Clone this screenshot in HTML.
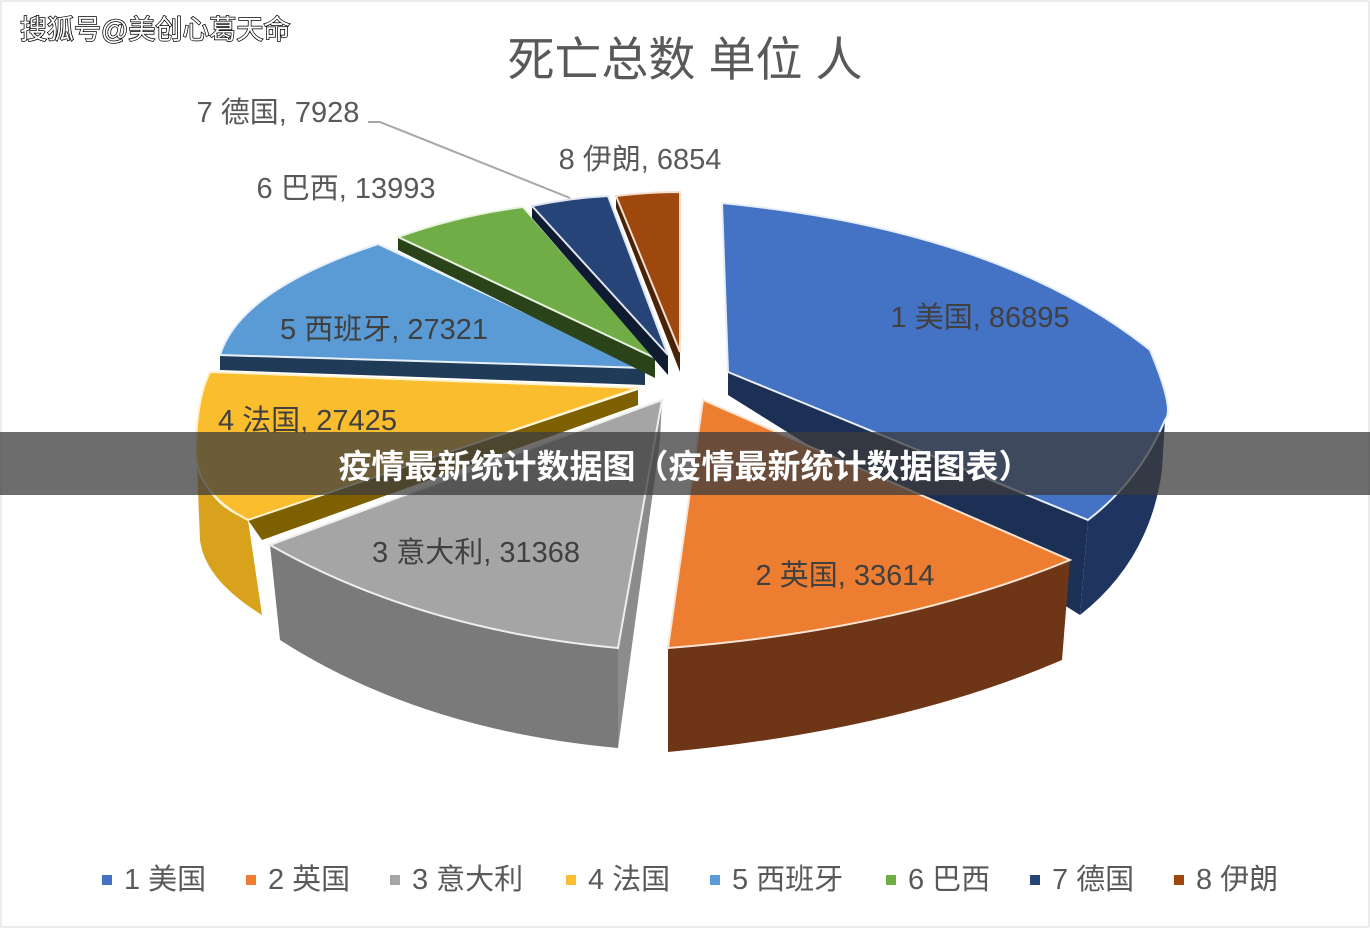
<!DOCTYPE html>
<html><head><meta charset="utf-8"><style>
body{margin:0;background:#fff;}
svg text{font-family:"Liberation Sans","Noto Sans CJK SC",sans-serif;}
</style></head><body>
<svg width="1370" height="928" viewBox="0 0 1370 928" xmlns="http://www.w3.org/2000/svg">
<rect x="0" y="0" width="1370" height="928" fill="#fff"/>
<rect x="1" y="1" width="1368" height="926" fill="none" stroke="#d9d9d9"/>
<text x="685" y="76" font-size="47" fill="#595959" text-anchor="middle">死亡总数 单位 人</text>

<!-- USA -->
<path d="M728,372 L1088,520 L1080,615 Q1150,560 1162,470 L1165,420 L1088,520 Z" fill="#1f3560"/>
<path d="M728,372 L1088,520 L1080,615 L728,395 Z" fill="#1c2f55"/>
<path d="M722,203 Q1000,230 1150,350 Q1175,410 1165,420 Q1140,480 1088,520 L728,372 Z" fill="#4472c4" stroke="#e8eef8" stroke-width="2"/>
<!-- UK -->
<path d="M668,648 Q900,630 1070,560 L1062,660 Q900,730 668,752 Z" fill="#6e3617"/>
<path d="M703,400 L1070,560 Q900,630 668,648 Z" fill="#ed7d31" stroke="#fbe5d6" stroke-width="2"/>
<!-- Italy -->
<path d="M618,648 L662,400 L660,440 L618,748 Z" fill="#8c8c8c"/>
<path d="M270,545 Q420,630 618,648 L618,748 Q420,730 280,640 Z" fill="#7a7a7a"/>
<path d="M662,400 L270,545 Q420,630 618,648 Z" fill="#a5a5a5" stroke="#eee" stroke-width="2"/>
<!-- France -->
<path d="M248,520 L638,390 L638,405 L262,540 Z" fill="#7f6000"/>
<path d="M196,440 Q195,500 248,520 L262,615 Q205,580 200,540 Z" fill="#d9a21c"/>
<path d="M210,372 L638,388 L248,520 Q190,490 196,440 Q198,395 210,372 Z" fill="#f9bd2d" stroke="#fff3d0" stroke-width="2"/>
<!-- Spain -->
<path d="M220,355 L645,368 L645,385 L220,370 Z" fill="#1f3b57"/>
<path d="M378,244 L645,368 L220,355 Q240,290 378,244 Z" fill="#5b9bd5" stroke="#e6f0fa" stroke-width="2"/>
<!-- Brazil -->
<path d="M398,237 L655,358 L655,378 L398,250 Z" fill="#2a4319"/>
<path d="M398,237 Q460,215 523,207 L655,358 Z" fill="#70ad47" stroke="#e8f3e0" stroke-width="2"/>
<!-- Germany -->
<path d="M532,206 L668,355 L668,375 L532,218 Z" fill="#0f1b30"/>
<path d="M532,206 Q570,198 608,196 L668,355 Z" fill="#264478" stroke="#e0e6f0" stroke-width="2"/>
<!-- Iran -->
<path d="M616,196 L680,352 L680,372 L616,208 Z" fill="#4a2208"/>
<path d="M616,196 Q648,192 680,192 L680,352 Z" fill="#9e480e" stroke="#f3e0d0" stroke-width="2"/>

<!-- labels -->
<g font-size="29" fill="#404040">
<text x="980" y="327" text-anchor="middle">1 美国, 86895</text>
<text x="845" y="585" text-anchor="middle">2 英国, 33614</text>
<text x="476" y="562" text-anchor="middle">3 意大利, 31368</text>
<text x="218" y="430">4 法国, 27425</text>
<text x="384" y="339" text-anchor="middle">5 西班牙, 27321</text>
</g>
<g font-size="29" fill="#595959">
<text x="346" y="198" text-anchor="middle">6 巴西, 13993</text>
<text x="278" y="122" text-anchor="middle">7 德国, 7928</text>
<text x="640" y="169" text-anchor="middle">8 伊朗, 6854</text>
</g>
<polyline points="368,122 380,122 570,198" fill="none" stroke="#a6a6a6" stroke-width="2"/>

<!-- banner -->
<rect x="0" y="432" width="1370" height="63" fill="#3c3c3c" opacity="0.75"/>
<text x="685" y="478" font-size="33" font-weight="bold" fill="#fff" text-anchor="middle">疫情最新统计数据图（疫情最新统计数据图表）</text>

<!-- watermark -->
<text x="20" y="39" font-size="27" fill="#fff" stroke="#000" stroke-width="1.5" paint-order="stroke">搜狐号@美创心葛天命</text>

<!-- legend -->
<g font-size="29" fill="#595959">
<rect x="102" y="875" width="10" height="10" fill="#4472c4"/><text x="124" y="889">1 美国</text>
<rect x="246" y="875" width="10" height="10" fill="#ed7d31"/><text x="268" y="889">2 英国</text>
<rect x="390" y="875" width="10" height="10" fill="#a5a5a5"/><text x="412" y="889">3 意大利</text>
<rect x="566" y="875" width="10" height="10" fill="#f9bd2d"/><text x="588" y="889">4 法国</text>
<rect x="710" y="875" width="10" height="10" fill="#5b9bd5"/><text x="732" y="889">5 西班牙</text>
<rect x="886" y="875" width="10" height="10" fill="#70ad47"/><text x="908" y="889">6 巴西</text>
<rect x="1030" y="875" width="10" height="10" fill="#264478"/><text x="1052" y="889">7 德国</text>
<rect x="1174" y="875" width="10" height="10" fill="#9e480e"/><text x="1196" y="889">8 伊朗</text>
</g>
</svg>
</body></html>
